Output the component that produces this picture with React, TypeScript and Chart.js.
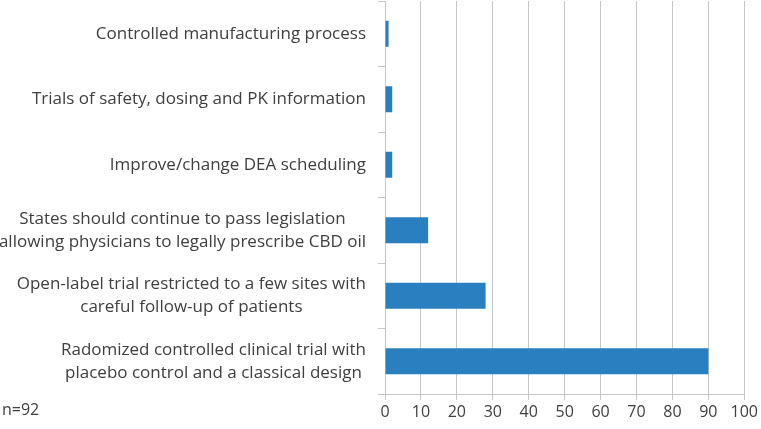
import React, { useEffect, useRef } from "react";
import { Chart, registerables } from "chart.js";

Chart.register(...registerables);

const categories: (string | string[])[] = [
  "Controlled manufacturing process",
  "Trials of safety, dosing and PK information",
  "Improve/change DEA scheduling",
  ["States should continue to pass legislation", "allowing physicians to legally prescribe CBD oil"],
  ["Open-label trial restricted to a few sites with", "careful follow-up of patients"],
  ["Radomized controlled clinical trial with", "placebo control and a classical design"],
];
const values = [1, 2, 2, 12, 28, 90];
const xMin = 0;
const xMax = 100;
const xStep = 10;
const noteText = "n=92";

const FONT = "'Open Sans', 'Liberation Sans', sans-serif";
const TEXT = "#404040";
const GRID = "#c6c6c6";
const LABEL_SIZE = 17;
const LINE_H = 23;

export default function App() {
  const ref = useRef<HTMLCanvasElement | null>(null);
  useEffect(() => {
    if (!ref.current) return;
    const labelPlugin = {
      id: "labels",
      afterDraw(chart: any) {
        const ctx = chart.ctx;
        const ys = chart.scales.y;
        const xs = chart.scales.x;
        const rightEdge = ys.right - 7 - 12;
        ctx.save();
        ctx.font = `${LABEL_SIZE}px ${FONT}`;
        ctx.fillStyle = TEXT;
        ctx.textAlign = "center";
        ctx.textBaseline = "middle";
        categories.forEach((lab, i) => {
          const lines = Array.isArray(lab) ? lab : [lab];
          const w = Math.max(...lines.map((l) => ctx.measureText(l).width));
          const cx = rightEdge - w / 2;
          const cy = ys.getPixelForTick(i);
          const y0 = cy - ((lines.length - 1) * LINE_H) / 2;
          lines.forEach((l, k) => ctx.fillText(l, cx, y0 + k * LINE_H));
        });
        ctx.font = `16px ${FONT}`;
        ctx.textAlign = "left";
        ctx.fillText(noteText, 2, xs.top + 16);
        ctx.restore();
      },
    };
    const chart = new Chart(ref.current, {
      type: "bar",
      data: {
        labels: categories as any,
        datasets: [
          {
            data: values,
            backgroundColor: "#2a7fc1",
            borderWidth: 0,
            categoryPercentage: 1,
            barPercentage: 0.4,
          },
        ],
      },
      options: {
        indexAxis: "y",
        animation: false,
        responsive: false,
        maintainAspectRatio: false,
        layout: { padding: { left: 0, right: 16, top: 1, bottom: 0 } },
        plugins: { legend: { display: false }, tooltip: { enabled: false } },
        scales: {
          x: {
            min: xMin,
            max: xMax,
            afterFit: (s: any) => {
              s.height = 35;
            },
            ticks: { stepSize: xStep, color: TEXT, font: { family: FONT, size: 16 }, padding: 3, maxRotation: 0 },
            grid: { color: GRID, tickLength: 6, lineWidth: 1 },
            border: { color: GRID },
          },
          y: {
            type: "category",
            afterFit: (s: any) => {
              s.width = 385;
              s.paddingTop = 0;
              s.paddingBottom = 0;
            },
            ticks: {
              color: "rgba(0,0,0,0)",
              font: { family: FONT, size: LABEL_SIZE, lineHeight: 1.35 },
              padding: 12,
              autoSkip: false,
            },
            grid: { drawOnChartArea: false, drawTicks: true, tickLength: 7, color: GRID, offset: true },
            border: { color: GRID },
          },
        },
      },
      plugins: [labelPlugin],
    });
    return () => chart.destroy();
  }, []);
  return (
    <div style={{ position: "fixed", left: 0, top: 0, width: 761, height: 429, background: "#fff" }}>
      <canvas ref={ref} width={761} height={429} style={{ display: "block" }} />
    </div>
  );
}
